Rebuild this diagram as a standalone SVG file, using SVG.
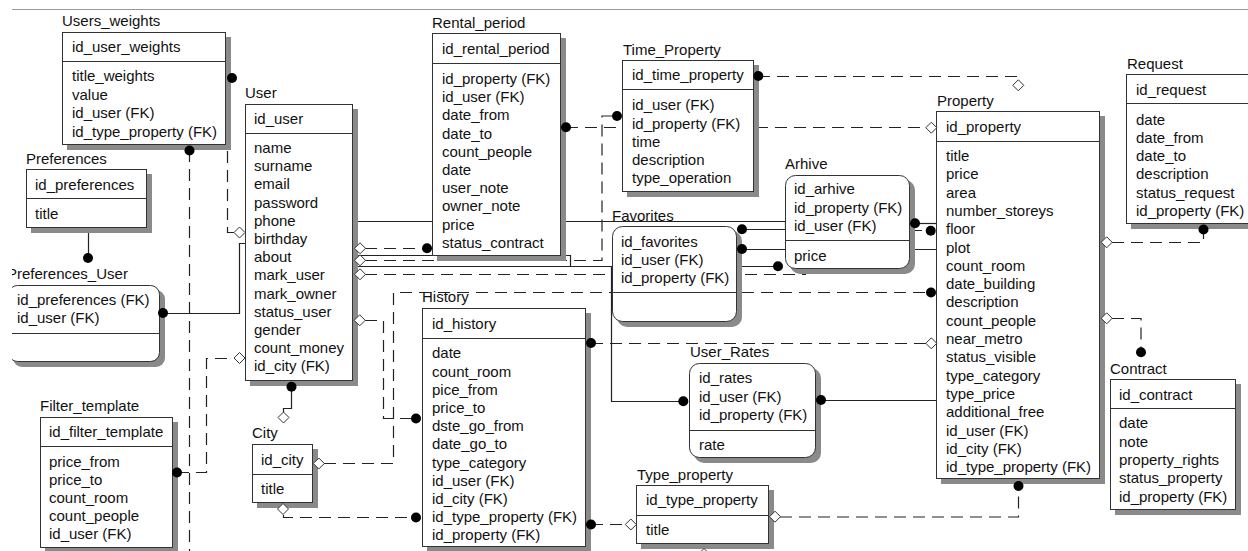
<svg xmlns="http://www.w3.org/2000/svg" width="1248" height="551" viewBox="0 0 1248 551">
<style>
.t{font-family:"Liberation Sans",Arial,sans-serif;font-size:15px;fill:#111}
.box{fill:#fff;stroke:#333;stroke-width:1}
.sh{fill:#8a8a8a}
.sep{stroke:#333;stroke-width:1}
.ln{fill:none;stroke:#222;stroke-width:1.2}
.d{stroke-dasharray:12 7}
.dot{fill:#000}
.dia{fill:#fff;stroke:#333;stroke-width:1}
</style>
<defs>
<path id="dm" d="M0,-5.5 L5.5,0 L0,5.5 L-5.5,0 Z"/>
<clipPath id="clipL"><rect x="12" y="0" width="1236" height="551"/></clipPath>
</defs>
<rect width="1248" height="551" fill="#fff"/>
<line x1="12" y1="9.5" x2="1248" y2="9.5" stroke="#999" stroke-width="1"/>

<g id="connectors">
<path class="ln" d="M88.5,228 V253"/>
<path class="ln" d="M163,313.5 H239.5 V243.5 H245"/>
<path class="ln d" d="M231,78.5 H227.5 V232.5 H234"/>
<path class="ln d" d="M189.5,150 V551"/>
<path class="ln d" d="M177,472.5 H206.5 V358.5 H234"/>
<path class="ln" d="M291.5,387 V408.5 H283.5 V412"/>
<path class="ln d" d="M283.5,515 V517.5 H416"/>
<path class="ln d" d="M324,463.5 H393.5 V292.5 H931"/>
<path class="ln d" d="M365,320.5 H383.5 V418.5 H416"/>
<path class="ln d" d="M591,524.5 H625"/>
<path class="ln d" d="M591,343.5 H926"/>
<path class="ln d" d="M780,517 H1018.5 V486"/>
<path class="ln d" d="M1112,242.5 H1203.5 V229"/>
<path class="ln d" d="M1112,318.5 H1141 V352"/>
<path class="ln d" d="M365,248.5 H427"/>
<path class="ln d" d="M566,127.5 H926"/>
<path class="ln d" d="M365,260.5 H602 V116 H617"/>
<path class="ln d" d="M758,76.5 H1018.5 V80"/>
<path class="ln" d="M353,255.5 H570.5 V266.5 H611.5 V401.5 H683"/>
<path class="ln" d="M353,266.5 H778"/>
<path class="ln" d="M821,400.5 H937"/>
<path class="ln" d="M353,221.5 H785.5 V229.5 H742"/>
<path class="ln" d="M742,249.5 H937"/>
<path class="ln" d="M915,223.5 H937"/>
<path class="ln d" d="M365,274.5 H805.5 V230.5 H931"/>
</g>

<g id="users_weights">
<text class="t" x="62" y="26">Users_weights</text>
<rect class="sh" x="67" y="37" width="164" height="113"/>
<rect class="box" x="62.5" y="32.5" width="163" height="112"/>
<line class="sep" x1="62.5" y1="61.5" x2="225.5" y2="61.5"/>
<text class="t" x="72" y="52">id_user_weights</text>
<text class="t" x="72" y="81">title_weights</text>
<text class="t" x="72" y="99.5">value</text>
<text class="t" x="72" y="118">id_user (FK)</text>
<text class="t" x="72" y="136.5">id_type_property (FK)</text>
</g>

<g id="user">
<text class="t" x="245" y="98">User</text>
<rect class="sh" x="250" y="109" width="108" height="277"/>
<rect class="box" x="245.5" y="104.5" width="107" height="276"/>
<line class="sep" x1="245.5" y1="133.5" x2="352.5" y2="133.5"/>
<text class="t" x="254" y="124">id_user</text>
<text class="t" x="254" y="153">name</text>
<text class="t" x="254" y="171.2">surname</text>
<text class="t" x="254" y="189.4">email</text>
<text class="t" x="254" y="207.6">password</text>
<text class="t" x="254" y="225.8">phone</text>
<text class="t" x="254" y="244">birthday</text>
<text class="t" x="254" y="262.2">about</text>
<text class="t" x="254" y="280.4">mark_user</text>
<text class="t" x="254" y="298.6">mark_owner</text>
<text class="t" x="254" y="316.8">status_user</text>
<text class="t" x="254" y="335">gender</text>
<text class="t" x="254" y="353.2">count_money</text>
<text class="t" x="254" y="371.4">id_city (FK)</text>
</g>

<g id="preferences">
<text class="t" x="26" y="164">Preferences</text>
<rect class="sh" x="31" y="174" width="121" height="59"/>
<rect class="box" x="26.5" y="169.5" width="120" height="58"/>
<line class="sep" x1="26.5" y1="198.5" x2="146.5" y2="198.5"/>
<text class="t" x="35" y="190">id_preferences</text>
<text class="t" x="35" y="219">title</text>
</g>

<g id="preferences_user" clip-path="url(#clipL)">
<text class="t" x="7" y="279">Preferences_User</text>
<rect class="sh" x="13" y="290" width="152" height="77" rx="9"/>
<rect class="box" x="8.5" y="285.5" width="151" height="76" rx="9"/>
<line class="sep" x1="8.5" y1="333.5" x2="159.5" y2="333.5"/>
<text class="t" x="17" y="304.5">id_preferences (FK)</text>
<text class="t" x="17" y="322.5">id_user (FK)</text>
</g>

<g id="filter_template">
<text class="t" x="40" y="411">Filter_template</text>
<rect class="sh" x="45" y="422" width="133" height="131"/>
<rect class="box" x="40.5" y="417.5" width="132" height="130"/>
<line class="sep" x1="40.5" y1="446.5" x2="172.5" y2="446.5"/>
<text class="t" x="49" y="437">id_filter_template</text>
<text class="t" x="49" y="466.5">price_from</text>
<text class="t" x="49" y="484.7">price_to</text>
<text class="t" x="49" y="502.9">count_room</text>
<text class="t" x="49" y="521.1">count_people</text>
<text class="t" x="49" y="539.3">id_user (FK)</text>
</g>

<g id="city">
<text class="t" x="252" y="438">City</text>
<rect class="sh" x="257" y="449" width="61" height="59"/>
<rect class="box" x="252.5" y="444.5" width="60" height="58"/>
<line class="sep" x1="252.5" y1="474.5" x2="312.5" y2="474.5"/>
<text class="t" x="261" y="465">id_city</text>
<text class="t" x="261" y="494">title</text>
</g>

<g id="rental_period">
<text class="t" x="432" y="28">Rental_period</text>
<rect class="sh" x="437" y="38" width="129" height="223"/>
<rect class="box" x="432.5" y="33.5" width="128" height="222"/>
<line class="sep" x1="432.5" y1="63.5" x2="560.5" y2="63.5"/>
<text class="t" x="442" y="54">id_rental_period</text>
<text class="t" x="442" y="84">id_property (FK)</text>
<text class="t" x="442" y="102.2">id_user (FK)</text>
<text class="t" x="442" y="120.4">date_from</text>
<text class="t" x="442" y="138.6">date_to</text>
<text class="t" x="442" y="156.8">count_people</text>
<text class="t" x="442" y="175">date</text>
<text class="t" x="442" y="193.2">user_note</text>
<text class="t" x="442" y="211.4">owner_note</text>
<text class="t" x="442" y="229.6">price</text>
<text class="t" x="442" y="247.8">status_contract</text>
</g>

<g id="time_property">
<text class="t" x="623" y="55">Time_Property</text>
<rect class="sh" x="627" y="65" width="132" height="132"/>
<rect class="box" x="622.5" y="60.5" width="131" height="131"/>
<line class="sep" x1="622.5" y1="89.5" x2="753.5" y2="89.5"/>
<text class="t" x="632" y="80">id_time_property</text>
<text class="t" x="632" y="110.3">id_user (FK)</text>
<text class="t" x="632" y="128.5">id_property (FK)</text>
<text class="t" x="632" y="146.7">time</text>
<text class="t" x="632" y="164.9">description</text>
<text class="t" x="632" y="183.1">type_operation</text>
</g>

<g id="property">
<text class="t" x="937" y="106">Property</text>
<rect class="sh" x="941" y="116" width="164" height="368"/>
<rect class="box" x="936.5" y="111.5" width="163" height="367"/>
<line class="sep" x1="936.5" y1="141.5" x2="1099.5" y2="141.5"/>
<text class="t" x="946" y="132">id_property</text>
<text class="t" x="946" y="161">title</text>
<text class="t" x="946" y="179.3">price</text>
<text class="t" x="946" y="197.6">area</text>
<text class="t" x="946" y="215.9">number_storeys</text>
<text class="t" x="946" y="234.2">floor</text>
<text class="t" x="946" y="252.5">plot</text>
<text class="t" x="946" y="270.8">count_room</text>
<text class="t" x="946" y="289.1">date_building</text>
<text class="t" x="946" y="307.4">description</text>
<text class="t" x="946" y="325.7">count_people</text>
<text class="t" x="946" y="344">near_metro</text>
<text class="t" x="946" y="362.3">status_visible</text>
<text class="t" x="946" y="380.6">type_category</text>
<text class="t" x="946" y="398.9">type_price</text>
<text class="t" x="946" y="417.2">additional_free</text>
<text class="t" x="946" y="435.5">id_user (FK)</text>
<text class="t" x="946" y="453.8">id_city (FK)</text>
<text class="t" x="946" y="472.1">id_type_property (FK)</text>
</g>

<g id="request">
<text class="t" x="1127" y="69">Request</text>
<rect class="sh" x="1131" y="79" width="135" height="150"/>
<rect class="box" x="1126.5" y="74.5" width="134" height="149"/>
<line class="sep" x1="1126.5" y1="103.5" x2="1260" y2="103.5"/>
<text class="t" x="1136" y="95">id_request</text>
<text class="t" x="1136" y="124.5">date</text>
<text class="t" x="1136" y="142.8">date_from</text>
<text class="t" x="1136" y="161.1">date_to</text>
<text class="t" x="1136" y="179.4">description</text>
<text class="t" x="1136" y="197.7">status_request</text>
<text class="t" x="1136" y="216">id_property (FK)</text>
</g>

<g id="contract">
<text class="t" x="1110" y="374">Contract</text>
<rect class="sh" x="1115" y="384" width="126" height="131"/>
<rect class="box" x="1110.5" y="379.5" width="125" height="130"/>
<line class="sep" x1="1110.5" y1="408.5" x2="1235.5" y2="408.5"/>
<text class="t" x="1119" y="400">id_contract</text>
<text class="t" x="1119" y="428.3">date</text>
<text class="t" x="1119" y="446.6">note</text>
<text class="t" x="1119" y="464.9">property_rights</text>
<text class="t" x="1119" y="483.2">status_property</text>
<text class="t" x="1119" y="501.5">id_property (FK)</text>
</g>

<g id="arhive">
<text class="t" x="785" y="169">Arhive</text>
<rect class="sh" x="790" y="180" width="125" height="94" rx="10"/>
<rect class="box" x="785.5" y="175.5" width="124" height="93" rx="10"/>
<line class="sep" x1="785.5" y1="240.5" x2="909.5" y2="240.5"/>
<text class="t" x="794" y="194.3">id_arhive</text>
<text class="t" x="794" y="212.6">id_property (FK)</text>
<text class="t" x="794" y="230.9">id_user (FK)</text>
<text class="t" x="794" y="261">price</text>
</g>

<g id="favorites">
<text class="t" x="612" y="221">Favorites</text>
<rect class="sh" x="617" y="231" width="125" height="96" rx="10"/>
<rect class="box" x="612.5" y="226.5" width="124" height="95" rx="10"/>
<line class="sep" x1="612.5" y1="292.5" x2="736.5" y2="292.5"/>
<text class="t" x="621" y="246.7">id_favorites</text>
<text class="t" x="621" y="265">id_user (FK)</text>
<text class="t" x="621" y="283.3">id_property (FK)</text>
</g>

<g id="user_rates">
<text class="t" x="690" y="357">User_Rates</text>
<rect class="sh" x="694" y="368" width="127" height="95" rx="10"/>
<rect class="box" x="689.5" y="363.5" width="126" height="94" rx="10"/>
<line class="sep" x1="689.5" y1="430.5" x2="815.5" y2="430.5"/>
<text class="t" x="699" y="383.3">id_rates</text>
<text class="t" x="699" y="401.6">id_user (FK)</text>
<text class="t" x="699" y="419.9">id_property (FK)</text>
<text class="t" x="699" y="449.7">rate</text>
</g>

<g id="history">
<text class="t" x="422" y="302">History</text>
<rect class="sh" x="427" y="313" width="164" height="239"/>
<rect class="box" x="422.5" y="308.5" width="163" height="238"/>
<line class="sep" x1="422.5" y1="338.5" x2="585.5" y2="338.5"/>
<text class="t" x="432" y="329">id_history</text>
<text class="t" x="432" y="358.3">date</text>
<text class="t" x="432" y="376.5">count_room</text>
<text class="t" x="432" y="394.7">pice_from</text>
<text class="t" x="432" y="412.9">price_to</text>
<text class="t" x="432" y="431.1">dste_go_from</text>
<text class="t" x="432" y="449.3">date_go_to</text>
<text class="t" x="432" y="467.5">type_category</text>
<text class="t" x="432" y="485.7">id_user (FK)</text>
<text class="t" x="432" y="503.9">id_city (FK)</text>
<text class="t" x="432" y="522.1">id_type_property (FK)</text>
<text class="t" x="432" y="540.3">id_property (FK)</text>
</g>

<g id="type_property">
<text class="t" x="637" y="480">Type_property</text>
<rect class="sh" x="641" y="490" width="133" height="59"/>
<rect class="box" x="636.5" y="485.5" width="132" height="58"/>
<line class="sep" x1="636.5" y1="515.5" x2="768.5" y2="515.5"/>
<text class="t" x="646" y="505">id_type_property</text>
<text class="t" x="646" y="535">title</text>
</g>

<g id="connector-ends">
<circle class="dot" cx="88" cy="258" r="5"/>
<circle class="dot" cx="163" cy="313" r="5"/>
<circle class="dot" cx="232" cy="78" r="5"/>
<circle class="dot" cx="189.5" cy="150.5" r="5"/>
<circle class="dot" cx="177" cy="472.5" r="5"/>
<circle class="dot" cx="291.5" cy="386.7" r="5"/>
<circle class="dot" cx="416" cy="517.5" r="5"/>
<circle class="dot" cx="931" cy="292.5" r="5"/>
<circle class="dot" cx="416" cy="418.5" r="5"/>
<circle class="dot" cx="591" cy="524.5" r="5"/>
<circle class="dot" cx="591" cy="343" r="5"/>
<circle class="dot" cx="1018.5" cy="486" r="5"/>
<circle class="dot" cx="1203.5" cy="229.5" r="5"/>
<circle class="dot" cx="1141" cy="352.3" r="5"/>
<circle class="dot" cx="427" cy="248.3" r="5"/>
<circle class="dot" cx="566" cy="127.3" r="5"/>
<circle class="dot" cx="617" cy="116" r="5"/>
<circle class="dot" cx="758.3" cy="76" r="5"/>
<circle class="dot" cx="683.3" cy="401.3" r="5"/>
<circle class="dot" cx="778" cy="266.3" r="5"/>
<circle class="dot" cx="821" cy="400" r="5"/>
<circle class="dot" cx="742" cy="229.3" r="5"/>
<circle class="dot" cx="742" cy="249" r="5"/>
<circle class="dot" cx="915" cy="223.3" r="5"/>
<circle class="dot" cx="930.7" cy="230.7" r="5"/>
<use href="#dm" class="dia" x="239.5" y="232.5"/>
<use href="#dm" class="dia" x="239.5" y="358"/>
<use href="#dm" class="dia" x="283.5" y="417.5"/>
<use href="#dm" class="dia" x="283" y="509"/>
<use href="#dm" class="dia" x="318.8" y="463.5"/>
<use href="#dm" class="dia" x="359.7" y="320.3"/>
<use href="#dm" class="dia" x="630.8" y="524.5"/>
<use href="#dm" class="dia" x="931.3" y="343.3"/>
<use href="#dm" class="dia" x="775" y="516.7"/>
<use href="#dm" class="dia" x="1106.7" y="242.3"/>
<use href="#dm" class="dia" x="1106.7" y="318.3"/>
<use href="#dm" class="dia" x="360" y="248.3"/>
<use href="#dm" class="dia" x="931.3" y="127.7"/>
<use href="#dm" class="dia" x="360" y="260.3"/>
<use href="#dm" class="dia" x="1018.3" y="85.3"/>
<use href="#dm" class="dia" x="360" y="274.3"/>
<use href="#dm" class="dia" x="704" y="554"/>
</g>
</svg>
